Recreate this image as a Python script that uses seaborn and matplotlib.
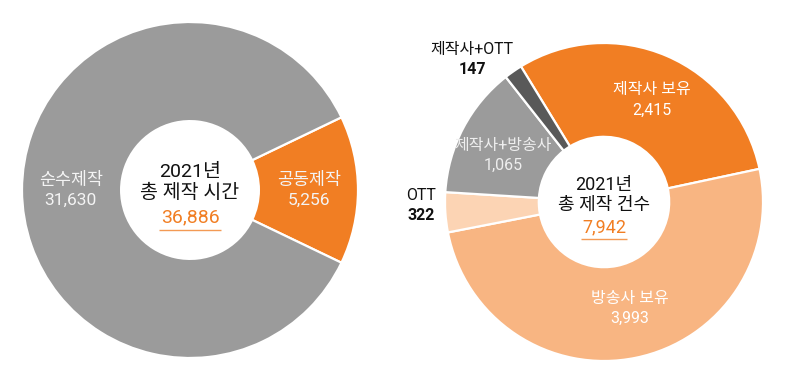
import numpy as np
import matplotlib
matplotlib.use("Agg")
import matplotlib.pyplot as plt
import seaborn as sns

# ---- data ----
left_labels = ["공동제작", "순수제작"]
left_values = [5256, 31630]
left_title = ["2021년", "총 제작 시간"]
left_total = "36,886"

right_labels = ["제작사 보유", "방송사 보유", "OTT", "제작사+방송사", "제작사+OTT"]
right_values = [2415, 3993, 322, 1065, 147]
right_title = ["2021년", "총 제작 건수"]
right_total = "7,942"

# ---- style ----
sns.set_theme(style="white")
plt.rcParams['font.family'] = ['Roboto', 'Noto Sans CJK KR', 'DejaVu Sans']

ORANGE = "#F17E23"
LIGHT_OR = "#F8B582"
PALE_OR = "#FCD4B4"
GRAY = "#9B9B9B"
DARK = "#595959"

left_colors = [ORANGE, GRAY]
right_colors = [ORANGE, LIGHT_OR, PALE_OR, GRAY, DARK]

fig = plt.figure(figsize=(8, 3.85), dpi=100)
axL = fig.add_axes([22 / 800, 27 / 385, 336 / 800, 336 / 385])
axR = fig.add_axes([445 / 800, 24 / 385, 318 / 800, 318 / 385])


def donut(ax, values, colors, start, counterclock):
    wedges, _ = ax.pie(values, colors=colors, startangle=start,
                       counterclock=counterclock, radius=1.0,
                       wedgeprops=dict(width=0.59, edgecolor="white", linewidth=1.6))
    ax.set_xlim(-1, 1)
    ax.set_ylim(-1, 1)
    ax.set_aspect("equal")
    ax.axis("off")
    return wedges


def put_label(ax, w, name, val, dist, dang=0.0, color="white", size=11,
              bold_val=False, gap=0.065):
    ang = np.deg2rad((w.theta1 + w.theta2) / 2 + dang)
    x, y = dist * np.cos(ang), dist * np.sin(ang)
    ax.text(x, y + gap, name, ha="center", va="center", color=color,
            fontsize=size)
    ax.text(x, y - gap, f"{val:,}", ha="center", va="center", color=color,
            fontsize=size, fontweight="bold" if bold_val else "normal")


def center_text(ax, title, total, size, uw, uy):
    ax.text(0, 0.11, title[0], ha="center", va="center", fontsize=size,
            color="#111111")
    ax.text(0, -0.02, title[1], ha="center", va="center", fontsize=size,
            color="#111111")
    ax.text(0, -0.16, total, ha="center", va="center", fontsize=size,
            color=ORANGE)
    ax.plot([-uw, uw], [uy, uy], color="#F39A55", lw=1.0,
            solid_capstyle="butt")


# left donut
wl = donut(axL, left_values, left_colors, start=-25.65, counterclock=True)
for w, n, v in zip(wl, left_labels, left_values):
    put_label(axL, w, n, v, 0.71, color="#F4F4F4", size=12.5, gap=0.06)
center_text(axL, left_title, left_total, 14, 0.185, -0.238)

# right donut
wr = donut(axR, right_values, right_colors, start=121.5, counterclock=False)
label_dist = [0.71, 0.69, 1.15, 0.70, 1.22]
label_dang = [-2, 2, -2.5, 3, 8]
label_col = ["white", "white", "#111111", "#EEEEEE", "#111111"]
label_bold = [False, False, True, False, True]
for w, n, v, d, da, c, b in zip(wr, right_labels, right_values, label_dist,
                                label_dang, label_col, label_bold):
    put_label(axR, w, n, v, d, dang=da, color=c, size=11.5, bold_val=b,
              gap=0.063)
center_text(axR, right_title, right_total, 13, 0.145, -0.233)

fig.savefig("out.png", dpi=100, facecolor="white")
